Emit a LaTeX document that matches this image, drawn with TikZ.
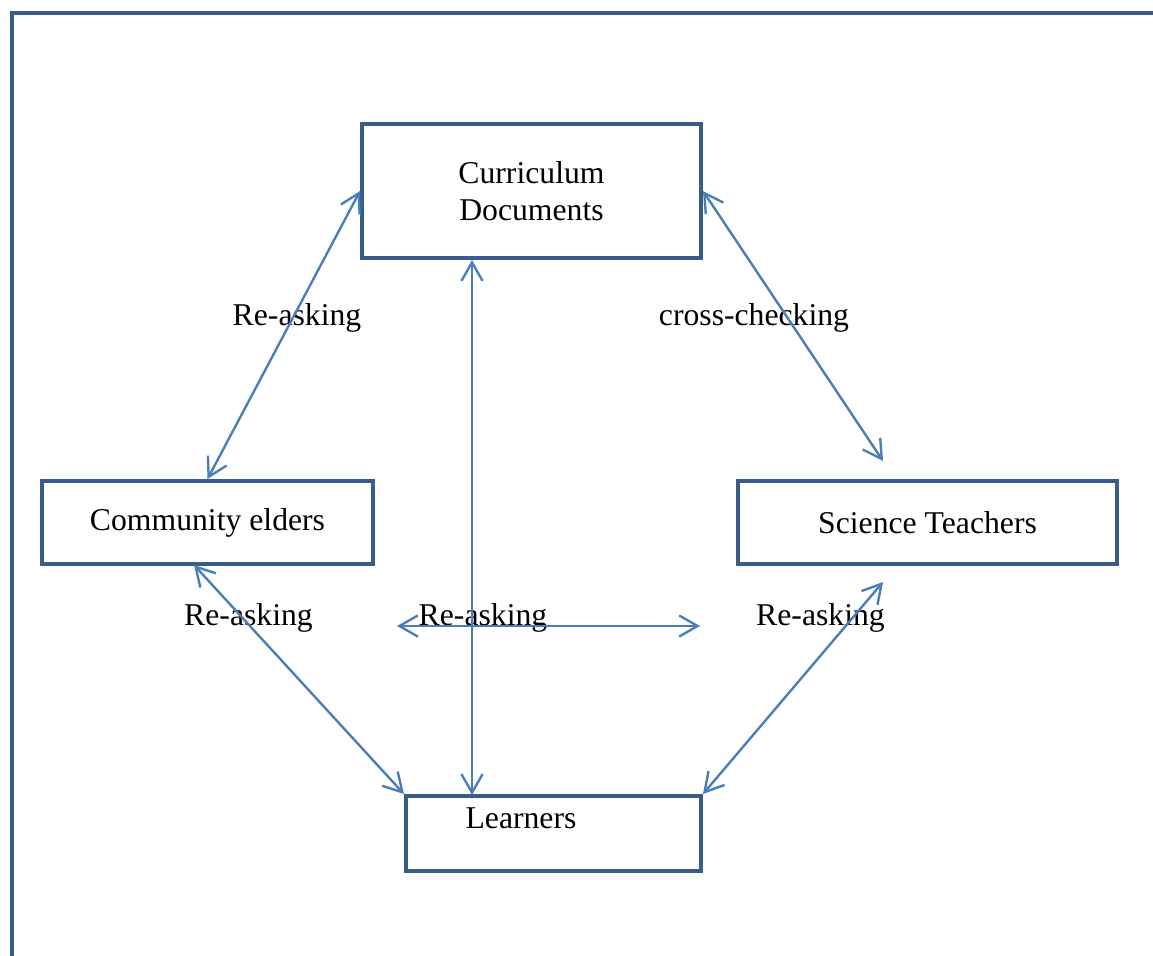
\documentclass[tikz,border=0pt]{standalone}
\usepackage{fontspec}
\setmainfont{Liberation Serif}
\usetikzlibrary{arrows.meta,calc}

\definecolor{boxblue}{HTML}{385D8A}
\definecolor{linkblue}{HTML}{4A7EBB}
\def\px{0.0133cm}

\begin{document}
\begin{tikzpicture}[x=\px,y=-\px,font=\fontsize{12}{14}\selectfont,
box/.style={draw=boxblue,line width=1.5pt,align=center,inner sep=0pt},
link/.style={draw=linkblue,line width=0.9pt,{Straight Barb[length=7pt,width=8pt]}-{Straight Barb[length=7pt,width=8pt]}}]
\useasboundingbox (0,0) rectangle (1153,956);
\draw[boxblue,line width=1.5pt] (12,956) -- (12,13) -- (1153,13);
\node[box,minimum width=339*\px,minimum height=134*\px] (cur) at (531.5,191) {Curriculum\\Documents};
\node[box,minimum width=331*\px,minimum height=83*\px] (com) at (207.5,522.5) {Community elders};
\node[box,minimum width=379*\px,minimum height=83*\px] (sci) at (927.5,522.5) {Science Teachers};
\node[box,minimum width=295*\px,minimum height=75*\px] (lrn) at (553.5,833.5) {};
\node (lrntext) at (521,818) {Learners};
\node (ask1) at (297,318) {Re-asking};
\node (check) at (754,318) {cross-checking};
\node (ask2) at (248.5,618) {Re-asking};
\node (ask3) at (483,618) {Re-asking};
\node (ask4) at (820.5,618) {Re-asking};
\coordinate (sciin) at (883,461);
\coordinate (sciout) at (883,582);
\coordinate (curout) at (472,260);
\coordinate (lrnin) at (472,795);
\coordinate (comout) at (194,565);
\coordinate (midl) at (397,626);
\coordinate (midr) at (700,626);
\draw[link] (cur.west) -- (com.north);
\draw[link] (cur.east) -- (sciin);
\draw[link] (curout) -- (lrnin);
\draw[link] (comout) -- (lrn.north west);
\draw[link] (sciout) -- (lrn.north east);
\draw[link] (midl) -- (midr);
\end{tikzpicture}
\end{document}
